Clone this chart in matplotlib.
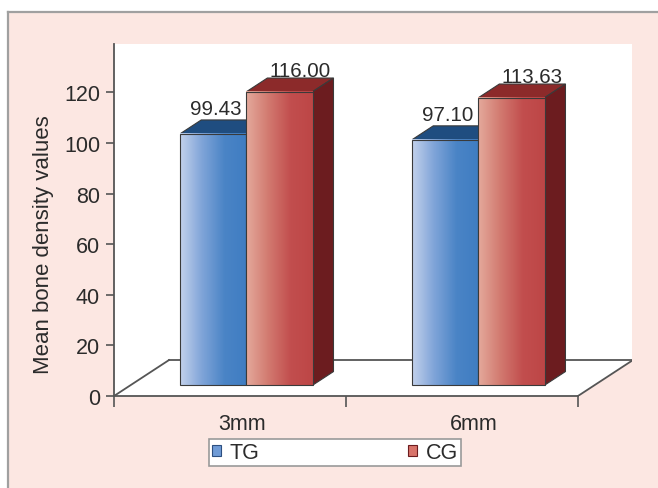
import matplotlib.pyplot as plt
import numpy as np
from matplotlib.patches import Polygon, Rectangle, Patch
from matplotlib.colors import LinearSegmentedColormap
from matplotlib.lines import Line2D

plt.rcParams['font.family'] = ['Liberation Sans', 'DejaVu Sans']

# Mean bone density per site
categories = ['3mm', '6mm']
tg_values = [99.43, 97.10]
cg_values = [116.00, 113.63]
series_names = ['TG', 'CG']
yticks = [0, 20, 40, 60, 80, 100, 120]

# pseudo-3D geometry (category units / value units)
floor_dx, floor_dy = 0.237, 14.2       # depth of the floor
bar_front = 0.30                        # where the bars sit in the depth
bar_depth = 0.38                        # bar thickness as fraction of floor depth
bar_w = 0.285
ymax = 139.1
xmax = 1.733

pink = '#fce7e2'
axis_col = '#555555'
text_col = '#2b2b2b'

tg_cmap = LinearSegmentedColormap.from_list('tg', ['#c3d1ec', '#7fa4d8', '#4a84c6', '#3f7dc2'])
cg_cmap = LinearSegmentedColormap.from_list('cg', ['#e4aa9c', '#d27a70', '#c24e4e', '#bd4646'])
tg_top = '#1f4d80'
cg_top = '#8c2a2a'
cg_side = '#6c1c1f'
edge = '#3a3a3a'

fig = plt.figure(figsize=(6.58, 4.89), dpi=100)
fig.patch.set_facecolor('white')

# pink panel with grey frame on top and left
fig.patches.append(Rectangle((8 / 658, 0), 1, (489 - 13) / 489, transform=fig.transFigure,
                             facecolor=pink, edgecolor='none', zorder=-10))
fig.lines.append(Line2D([8 / 658, 8 / 658], [0, (489 - 13) / 489], transform=fig.transFigure,
                        color='#a0a0a0', lw=1.6))
fig.lines.append(Line2D([8 / 658, 1], [(489 - 13) / 489] * 2, transform=fig.transFigure,
                        color='#a0a0a0', lw=1.6))

ax = fig.add_axes([114 / 658, (489 - 397) / 489, 518 / 658, 352 / 489])
ax.set_facecolor('none')
for s in ax.spines.values():
    s.set_visible(False)

x = np.arange(len(categories))
left, right = -0.5, len(categories) - 0.5

# white plot area: wall + floor
ax.add_patch(Polygon([(left, 0), (left, ymax), (right + floor_dx, ymax),
                      (right + floor_dx, floor_dy), (right, 0)],
                     closed=True, facecolor='white', edgecolor='none', zorder=0))
# floor outline and value axis
ax.plot([left, right], [0, 0], color=axis_col, lw=1.3, zorder=1, clip_on=False)
ax.plot([left, left + floor_dx], [0, floor_dy], color=axis_col, lw=1.3, zorder=1)
ax.plot([right, right + floor_dx], [0, floor_dy], color=axis_col, lw=1.3, zorder=1)
ax.plot([left + floor_dx, right + floor_dx], [floor_dy, floor_dy], color=axis_col, lw=1.3, zorder=1)
ax.plot([left, left], [0, ymax], color=axis_col, lw=1.3, zorder=1, clip_on=False)

bx0, by0 = bar_front * floor_dx, bar_front * floor_dy
bdx, bdy = bar_depth * floor_dx, bar_depth * floor_dy
grad = np.linspace(0, 1, 256).reshape(1, -1)


def draw_bar(x0, val, cmap, top_col, side_col, z):
    x1 = x0 + bar_w
    yb, yt = by0, by0 + val
    ax.add_patch(Polygon([(x0, yt), (x0 + bdx, yt + bdy), (x1 + bdx, yt + bdy), (x1, yt)],
                         facecolor=top_col, edgecolor=edge, lw=0.8, zorder=z))
    if side_col is not None:
        ax.add_patch(Polygon([(x1, yb), (x1 + bdx, yb + bdy), (x1 + bdx, yt + bdy), (x1, yt)],
                             facecolor=side_col, edgecolor=edge, lw=0.8, zorder=z))
    ax.imshow(grad, cmap=cmap, aspect='auto', extent=(x0, x1, yb, yt),
              interpolation='bilinear', zorder=z + 0.5)
    ax.add_patch(Rectangle((x0, yb), bar_w, val, fill=False, edgecolor=edge, lw=0.8, zorder=z + 0.6))
    return x0 + bar_w / 2, yt + bdy


for i in range(len(categories)):
    cx = x[i] + bx0
    tx, ty = draw_bar(cx - bar_w, tg_values[i], tg_cmap, tg_top, None, 2 + 2 * i)
    ax.annotate(f'{tg_values[i]:.2f}', (tx, ty), xytext=(2, 4.5), textcoords='offset points',
                ha='center', va='baseline', fontsize=14.8, color=text_col, zorder=10)
    tx, ty = draw_bar(cx, cg_values[i], cg_cmap, cg_top, cg_side, 3 + 2 * i)
    ax.annotate(f'{cg_values[i]:.2f}', (tx + bdx, ty), xytext=(0, 1.5), textcoords='offset points',
                ha='center', va='baseline', fontsize=14.8, color=text_col, zorder=10)

ax.set_xlim(left, xmax)
ax.set_ylim(0, ymax)

ax.set_yticks(yticks)
ax.set_yticklabels([str(t) for t in yticks])
ax.tick_params(axis='y', direction='out', length=6, width=1.2, color=axis_col,
               labelsize=15.5, labelcolor=text_col, pad=4)

# category boundaries as major ticks, names on minor ticks
ax.set_xticks(np.arange(len(categories) + 1) - 0.5)
ax.set_xticklabels([])
ax.set_xticks(x + 0.05, minor=True)
ax.set_xticklabels(categories, minor=True)
ax.tick_params(axis='x', which='major', direction='out', length=8, width=1.2, color=axis_col)
ax.tick_params(axis='x', which='minor', length=0, pad=12, labelsize=15.5, labelcolor=text_col)

ax.set_ylabel('Mean bone density values', fontsize=16, color=text_col, va='center')
ax.yaxis.set_label_coords(-0.137, 0.432)

handles = [Patch(facecolor='#6f9bd6', edgecolor='#2d4f80', lw=0.8),
           Patch(facecolor='#d8736a', edgecolor='#6c1c1f', lw=0.8)]
leg = fig.legend(handles, series_names, ncol=2, mode='expand', loc='center',
                 bbox_to_anchor=(209 / 658, (489 - 467) / 489, 252 / 658, 27 / 489),
                 fontsize=15.5, handlelength=0.4, handleheight=0.4, handletextpad=0.4,
                 borderpad=0.15, borderaxespad=0, fancybox=False, framealpha=1,
                 edgecolor='#999999', labelcolor=text_col)
leg.get_frame().set_linewidth(1.2)

plt.savefig('out.png', dpi=100)
